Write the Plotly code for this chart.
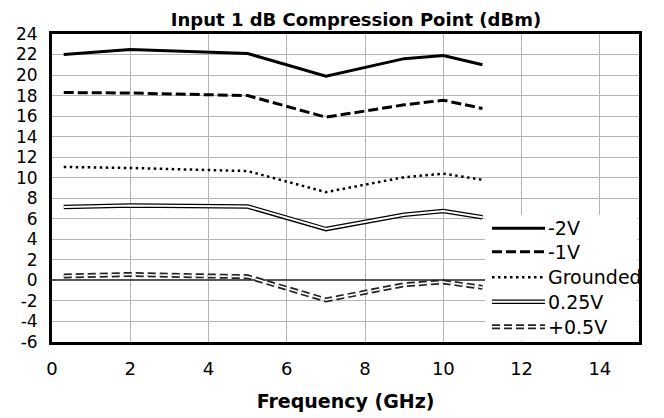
import plotly.graph_objects as go

# ---- data ----
freq = [0.3, 2, 5, 7, 9, 10, 11]
v_m2 = [22.0, 22.5, 22.1, 19.9, 21.6, 21.9, 21.0]
v_m1 = [18.3, 18.25, 18.0, 15.9, 17.1, 17.55, 16.75]
v_gnd = [11.05, 10.95, 10.65, 8.6, 10.05, 10.4, 9.8]
v_025 = [7.15, 7.3, 7.2, 5.0, 6.4, 6.75, 6.15]
v_05 = [0.43, 0.58, 0.36, -1.9, -0.42, -0.15, -0.68]
series_names = ["-2V", "-1V", "Grounded", "0.25V", "+0.5V"]
x_ticks = [0, 2, 4, 6, 8, 10, 12, 14]
y_ticks = list(range(-6, 25, 2))

FONT = "DejaVu Sans"
W, H = 664, 418
OFF = 8  # page body margin
# target plot area in screenshot pixels: x 52..639, y 34..342
SL, SR, ST, SB = 52, 639, 34, 342
ML, MT = SL - OFF, ST - OFF
MR, MB = W - (SR - OFF), H - (SB - OFF)
PW, PH = SR - SL, SB - ST

def px(x):
    return (x - SL) / PW

def py(y):
    return (SB - y) / PH

fig = go.Figure()

def add(y, color, width, dash, name):
    fig.add_trace(go.Scatter(x=freq, y=y, mode="lines", name=name, showlegend=False,
                             hoverinfo="skip",
                             line=dict(color=color, width=width, dash=dash)))

add(v_m2, "black", 3, "solid", series_names[0])
add(v_m1, "black", 3, "10px,4px", series_names[1])
add(v_gnd, "black", 2.5, "2.5px,3.5px", series_names[2])
add(v_025, "black", 4.5, "solid", series_names[3])
add(v_025, "white", 2, "solid", series_names[3] + " inner")
add(v_05, "#222222", 5, "8px,4px", series_names[4])
add(v_05, "white", 1.6, "8px,4px", series_names[4] + " inner")

shapes = []
annotations = []
# legend background box
shapes.append(dict(type="rect", xref="paper", yref="paper", layer="above",
                   x0=px(485), x1=px(637.5), y0=py(340.5), y1=py(215),
                   fillcolor="white", line=dict(width=0)))
rows = [228.3, 251.7, 277.3, 301.7, 326.7]
styles = [
    [("black", 3, "solid")],
    [("black", 3, "10px,4px")],
    [("black", 2.5, "2.5px,3.5px")],
    [("black", 4.5, "solid"), ("white", 2, "solid")],
    [("#222222", 5, "8px,4px"), ("white", 1.6, "8px,4px")],
]
for name, yy, st in zip(series_names, rows, styles):
    for color, width, dash in st:
        shapes.append(dict(type="line", xref="paper", yref="paper", layer="above",
                           x0=px(492), x1=px(545), y0=py(yy), y1=py(yy),
                           line=dict(color=color, width=width, dash=dash)))
    annotations.append(dict(text=name, xref="paper", yref="paper", x=px(546), y=py(yy),
                            xanchor="left", yanchor="middle", showarrow=False,
                            font=dict(family=FONT, size=19, color="black")))

fig.update_layout(
    width=W, height=H,
    margin=dict(l=ML, r=MR, t=MT, b=MB),
    paper_bgcolor="white", plot_bgcolor="white",
    font=dict(family=FONT, size=18, color="black"),
    title=dict(text="<b>Input 1 dB Compression Point (dBm)</b>",
               font=dict(family=FONT, size=18, color="black"),
               x=px(356), xref="paper", xanchor="center",
               y=1 - (19.5 - OFF) / H, yref="container", yanchor="middle"),
    shapes=shapes,
    annotations=annotations,
)
fig.update_xaxes(range=[0, 15], tickvals=x_ticks, ticktext=[str(v) for v in x_ticks],
                 showgrid=True, gridcolor="#b5b5b5", gridwidth=1.3,
                 showline=True, linecolor="black", linewidth=3, mirror=True,
                 zeroline=False, ticks="", ticklabelstandoff=8, automargin=False,
                 tickfont=dict(family=FONT, size=18),
                 title=dict(text="<b>Frequency (GHz)</b>", standoff=18,
                            font=dict(family=FONT, size=19)))
fig.update_yaxes(range=[-6, 24], tickvals=y_ticks, ticktext=[str(v) for v in y_ticks],
                 showgrid=True, gridcolor="#b5b5b5", gridwidth=1.3,
                 showline=True, linecolor="black", linewidth=3, mirror=True,
                 zeroline=True, zerolinecolor="#555555", zerolinewidth=1.5,
                 ticks="", ticklabelstandoff=8, automargin=False,
                 tickfont=dict(family=FONT, size=17))

fig.write_html("out.html")
